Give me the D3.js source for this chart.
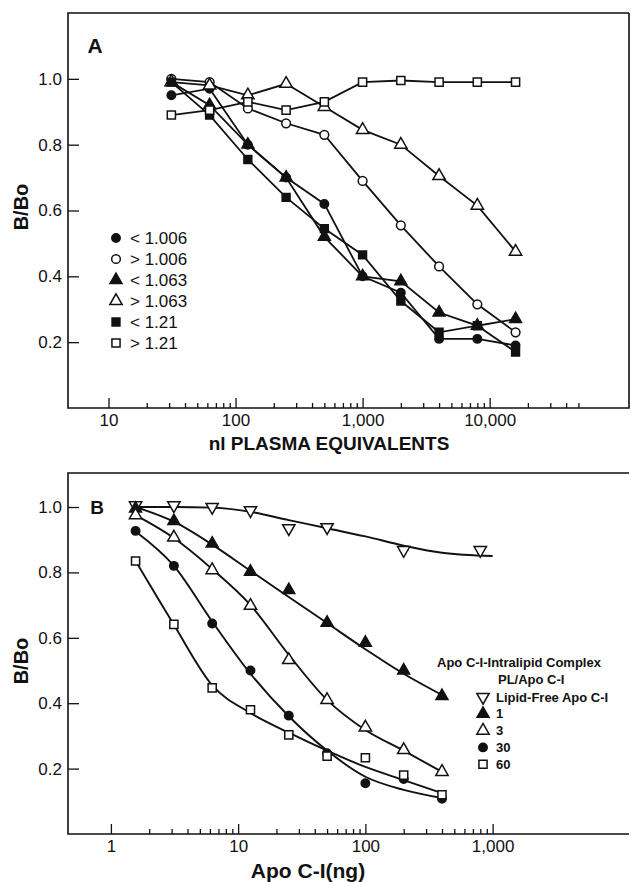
<!DOCTYPE html>
<html>
<head>
<meta charset="utf-8">
<script src="https://cdn.jsdelivr.net/npm/d3@7"></script>
<style>
  body { margin: 0; background: #fff; }
  svg { display: block; }
  text { font-family: "Liberation Sans", Arial, sans-serif; fill: #111; }
</style>
</head>
<body>
<svg id="chart" width="631" height="882"></svg>
<script>
// ---- panel A: nl plasma equivalents vs B/Bo ----
const plasmaNl = [31.25, 62.5, 125, 250, 500, 1000, 2000, 4000, 8000, 16000];
const lt1006 = [0.95, 0.97, 0.80, 0.70, 0.62, 0.40, 0.35, 0.21, 0.21, 0.19];
const gt1006 = [1.00, 0.99, 0.91, 0.865, 0.83, 0.69, 0.555, 0.43, 0.315, 0.23];
const lt1063 = [0.99, 0.92, 0.80, 0.70, 0.52, 0.40, 0.385, 0.29, 0.25, 0.27];
const gt1063 = [0.99, 0.98, 0.95, 0.985, 0.915, 0.845, 0.80, 0.705, 0.615, 0.475];
const lt121 = [0.99, 0.89, 0.755, 0.64, 0.545, 0.465, 0.325, 0.23, 0.25, 0.17];
const gt121 = [0.89, 0.905, 0.93, 0.905, 0.93, 0.99, 0.995, 0.99, 0.99, 0.99];
const legendA = ['< 1.006', '> 1.006', '< 1.063', '> 1.063', '< 1.21', '> 1.21'];
const xTicksA = [10, 100, 1000, 10000];
const xMinorA = [20, 30, 40, 50, 60, 70, 80, 90, 200, 300, 400, 500, 600, 700, 800, 900,
  2000, 3000, 4000, 5000, 6000, 7000, 8000, 9000, 20000, 30000, 40000, 50000];

// ---- panel B: Apo C-I (ng) vs B/Bo ----
const apoNg = [1.5625, 3.125, 6.25, 12.5, 25, 50, 100, 200, 400];
const lipidFreeNg = [1.5625, 3.125, 6.25, 12.5, 25, 50, 200, 800];
const lipidFree = [1.005, 1.005, 1.0, 0.99, 0.935, 0.938, 0.868, 0.868];
const pl1 = [0.995, 0.957, 0.888, 0.802, 0.746, 0.646, 0.585, 0.50, 0.422];
const pl3 = [0.975, 0.907, 0.807, 0.698, 0.532, 0.41, 0.326, 0.257, 0.19];
const pl30 = [0.927, 0.82, 0.644, 0.50, 0.362, 0.247, 0.155, 0.168, 0.108];
const pl60 = [0.835, 0.641, 0.447, 0.38, 0.303, 0.238, 0.233, 0.18, 0.12];
// fitted curves as drawn in the figure
const fitLipidFreeNg = [1.5625, 3.125, 6.25, 12.5, 25, 50, 100, 200, 400, 1000];
const fitLipidFree = [1.0, 1.0, 0.998, 0.985, 0.96, 0.935, 0.91, 0.882, 0.86, 0.85];
const fit1 = [1.0, 0.955, 0.885, 0.805, 0.725, 0.645, 0.565, 0.49, 0.425];
const fit3 = [0.975, 0.905, 0.81, 0.70, 0.548, 0.41, 0.318, 0.255, 0.19];
const fit30 = [0.925, 0.82, 0.65, 0.49, 0.36, 0.255, 0.175, 0.135, 0.11];
const fit60 = [0.835, 0.64, 0.455, 0.37, 0.31, 0.255, 0.205, 0.165, 0.125];
const legendB = ['Lipid-Free Apo C-I', '1', '3', '30', '60'];
const xTicksB = [1, 10, 100, 1000];
const xMinorB = [2, 3, 4, 5, 6, 7, 8, 9, 20, 30, 40, 50, 60, 70, 80, 90,
  200, 300, 400, 500, 600, 700, 800, 900];

const yTicks = [0.2, 0.4, 0.6, 0.8, 1.0];

const svg = d3.select('#chart');
const fmt = d3.format(',');

// marker shapes
const markers = {
  dot: { type: d3.symbolCircle, size: 56, fill: '#111', rot: 0 },
  circle: { type: d3.symbolCircle, size: 60, fill: '#fff', rot: 0 },
  tri: { type: d3.symbolTriangle, size: 62, fill: '#111', rot: 0 },
  openTri: { type: d3.symbolTriangle, size: 66, fill: '#fff', rot: 0 },
  downTri: { type: d3.symbolTriangle, size: 66, fill: '#fff', rot: 180 },
  sq: { type: d3.symbolSquare, size: 62, fill: '#111', rot: 0 },
  openSq: { type: d3.symbolSquare, size: 66, fill: '#fff', rot: 0 }
};

function drawMarker(g, kind, x, y) {
  const m = markers[kind];
  g.append('path')
    .attr('d', d3.symbol().type(m.type).size(m.size)())
    .attr('transform', `translate(${x},${y}) rotate(${m.rot})`)
    .attr('fill', m.fill)
    .attr('stroke', '#111')
    .attr('stroke-width', 1.5);
}

function frame(g, x, y, left, right, top, bottom, xTicks, xMinor, rightBorder) {
  const xAxis = d3.axisBottom(x).tickValues(xTicks).tickSize(-10).tickSizeOuter(0)
    .tickPadding(6).tickFormat(fmt);
  const xa = g.append('g').attr('transform', `translate(0,${bottom})`).call(xAxis);
  xa.select('.domain').remove();
  xa.selectAll('text').style('font-size', '17px');

  const minor = d3.axisBottom(x).tickValues(xMinor).tickSize(-5).tickSizeOuter(0).tickFormat('');
  const xm = g.append('g').attr('transform', `translate(0,${bottom})`).call(minor);
  xm.select('.domain').remove();

  const yAxis = d3.axisLeft(y).tickValues(yTicks).tickSize(-11).tickSizeOuter(0)
    .tickPadding(6).tickFormat(d3.format('.1f'));
  const ya = g.append('g').attr('transform', `translate(${left},0)`).call(yAxis);
  ya.select('.domain').remove();
  ya.selectAll('text').style('font-size', '17px');

  g.selectAll('.tick line').attr('stroke', '#111').attr('stroke-width', 1.3);

  let d = `M${right},${top}H${left}V${bottom}H${right}`;
  if (rightBorder) d += `V${top}`;
  g.append('path').attr('d', d).attr('fill', 'none').attr('stroke', '#111').attr('stroke-width', 1.6);
}

// ===== Panel A =====
const left = 68, right = 629;
const xA = d3.scaleLog().domain([4.8, 125000]).range([left, right]);
const yA = d3.scaleLinear().domain([0, 1.2]).range([408, 13]);
const gA = svg.append('g');
frame(gA, xA, yA, left, right, 13, 408, xTicksA, xMinorA, true);

const seriesA = [
  { vals: lt1006, kind: 'dot' },
  { vals: gt1006, kind: 'circle' },
  { vals: lt1063, kind: 'tri' },
  { vals: gt1063, kind: 'openTri' },
  { vals: lt121, kind: 'sq' },
  { vals: gt121, kind: 'openSq' }
];
const lineA = d3.line().x(d => xA(d[0])).y(d => yA(d[1]));
seriesA.forEach(s => {
  const pts = plasmaNl.map((x, i) => [x, s.vals[i]]);
  gA.append('path').attr('d', lineA(pts)).attr('fill', 'none')
    .attr('stroke', '#111').attr('stroke-width', 1.8);
});
seriesA.forEach(s => {
  plasmaNl.forEach((x, i) => drawMarker(gA, s.kind, xA(x), yA(s.vals[i])));
});

legendA.forEach((t, i) => {
  const y = 238 + i * 21;
  drawMarker(gA, seriesA[i].kind, 116, y);
  gA.append('text').attr('x', 130).attr('y', y).attr('dy', '0.36em')
    .style('font-size', '17px').text(t);
});
gA.append('text').attr('x', 95).attr('y', 53).attr('text-anchor', 'middle')
  .style('font-size', '21px').style('font-weight', 'bold').text('A');
gA.append('text').attr('x', 329).attr('y', 450).attr('text-anchor', 'middle')
  .style('font-size', '19px').style('font-weight', 'bold').text('nl PLASMA EQUIVALENTS');
gA.append('text').attr('transform', 'translate(28,207) rotate(-90)').attr('text-anchor', 'middle')
  .style('font-size', '20px').style('font-weight', 'bold').text('B/Bo');

// ===== Panel B =====
const xB = d3.scaleLog().domain([0.46, 11800]).range([left, right]);
const yB = d3.scaleLinear().domain([0, 1.104]).range([834, 473]);
const gB = svg.append('g');
frame(gB, xB, yB, left, right, 473, 834, xTicksB, xMinorB, false);

const curveB = d3.line().x(d => xB(d[0])).y(d => yB(d[1])).curve(d3.curveMonotoneX);
const fits = [
  { xs: fitLipidFreeNg, vals: fitLipidFree },
  { xs: apoNg, vals: fit1 },
  { xs: apoNg, vals: fit3 },
  { xs: apoNg, vals: fit30 },
  { xs: apoNg, vals: fit60 }
];
fits.forEach(f => {
  gB.append('path').attr('d', curveB(f.xs.map((x, i) => [x, f.vals[i]])))
    .attr('fill', 'none').attr('stroke', '#111').attr('stroke-width', 1.9);
});

const seriesB = [
  { xs: lipidFreeNg, vals: lipidFree, kind: 'downTri' },
  { xs: apoNg, vals: pl1, kind: 'tri' },
  { xs: apoNg, vals: pl3, kind: 'openTri' },
  { xs: apoNg, vals: pl30, kind: 'dot' },
  { xs: apoNg, vals: pl60, kind: 'openSq' }
];
seriesB.forEach(s => {
  s.xs.forEach((x, i) => drawMarker(gB, s.kind, xB(x), yB(s.vals[i])));
});

gB.append('text').attr('x', 437).attr('y', 667).style('font-size', '13px')
  .style('font-weight', 'bold').text('Apo C-I-Intralipid Complex');
gB.append('text').attr('x', 498).attr('y', 684).style('font-size', '13px')
  .style('font-weight', 'bold').text('PL/Apo C-I');
legendB.forEach((t, i) => {
  const y = 697 + i * 16.8;
  drawMarker(gB, seriesB[i].kind, 483, y);
  gB.append('text').attr('x', 496).attr('y', y).attr('dy', '0.36em')
    .style('font-size', '13px').style('font-weight', 'bold').text(t);
});

gB.append('text').attr('x', 97).attr('y', 507).attr('dy', '0.36em').attr('text-anchor', 'middle')
  .style('font-size', '19px').style('font-weight', 'bold').text('B');
gB.append('text').attr('x', 308).attr('y', 878).attr('text-anchor', 'middle')
  .style('font-size', '21px').style('font-weight', 'bold').text('Apo C-I(ng)');
gB.append('text').attr('transform', 'translate(28,661) rotate(-90)').attr('text-anchor', 'middle')
  .style('font-size', '20px').style('font-weight', 'bold').text('B/Bo');
</script>
</body>
</html>
